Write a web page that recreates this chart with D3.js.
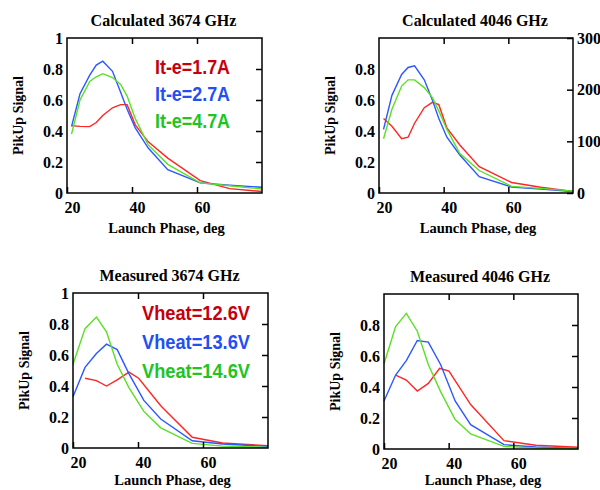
<!DOCTYPE html>
<html>
<head>
<style>
  body { margin: 0; background: #fff; }
</style>
</head>
<body>
<div id="chart"></div>
<script src="https://d3js.org/d3.v7.min.js"></script>
<script>
// ---- data ----
const calcPhase = [21.4, 24, 27, 29, 31, 34, 36.5, 38.5, 41, 45, 51, 61, 70, 80];

const calc3674Red   = [0.435, 0.43, 0.428, 0.455, 0.50, 0.55, 0.57, 0.57, 0.44, 0.33, 0.225, 0.08, 0.028, 0.01];
const calc3674Blue  = [0.43, 0.64, 0.76, 0.825, 0.85, 0.785, 0.65, 0.54, 0.42, 0.29, 0.15, 0.065, 0.05, 0.037];
const calc3674Green = [0.38, 0.60, 0.72, 0.75, 0.77, 0.745, 0.70, 0.625, 0.48, 0.31, 0.185, 0.065, 0.047, 0.026];

const calc4046Red   = [0.48, 0.43, 0.35, 0.36, 0.45, 0.55, 0.585, 0.57, 0.42, 0.31, 0.17, 0.068, 0.037, 0.01];
const calc4046Blue  = [0.41, 0.63, 0.765, 0.81, 0.82, 0.73, 0.60, 0.48, 0.36, 0.245, 0.105, 0.038, 0.025, 0.01];
const calc4046Green = [0.35, 0.54, 0.69, 0.73, 0.73, 0.68, 0.615, 0.53, 0.41, 0.255, 0.145, 0.043, 0.03, 0.012];

const meas3674Phase    = [20, 23.7, 27.2, 30.3, 33.6, 37.2, 41.8, 47, 56.7, 66, 80];
const meas3674RedPhase = [23.7, 27.2, 30.3, 33.6, 37.2, 40.2, 47, 56.7, 66, 80];
const meas3674Red   = [0.45, 0.435, 0.40, 0.44, 0.49, 0.45, 0.273, 0.069, 0.032, 0.015];
const meas3674Blue  = [0.33, 0.52, 0.61, 0.67, 0.635, 0.48, 0.307, 0.187, 0.047, 0.026, 0.011];
const meas3674Green = [0.54, 0.77, 0.845, 0.75, 0.54, 0.39, 0.236, 0.13, 0.03, 0.012, 0.004];

const meas4046Phase    = [20, 23.6, 26.9, 30.3, 33.7, 37.5, 42, 46.8, 57.1, 66.9, 80];
const meas4046RedPhase = [23.6, 26.9, 30.3, 33.7, 37.2, 40.1, 46.8, 57.1, 66.9, 80];
const meas4046Red   = [0.477, 0.445, 0.374, 0.423, 0.52, 0.503, 0.287, 0.054, 0.024, 0.011];
const meas4046Blue  = [0.31, 0.477, 0.57, 0.70, 0.69, 0.545, 0.31, 0.157, 0.028, 0.013, 0.004];
const meas4046Green = [0.55, 0.79, 0.875, 0.76, 0.545, 0.37, 0.19, 0.097, 0.017, 0.006, 0.002];

const calcLegend = ['It-e=1.7A', 'It-e=2.7A', 'It-e=4.7A'];
const measLegend = ['Vheat=12.6V', 'Vheat=13.6V', 'Vheat=14.6V'];

const xTicks = [20, 40, 60];
const yTicksFull = [0, 0.2, 0.4, 0.6, 0.8, 1];
const yTicksNoTop = [0, 0.2, 0.4, 0.6, 0.8];
const rightTicks = [0, 100, 200, 300];

const lineColors = ['#ff2626', '#2b58ff', '#5ae024'];
const textColors = ['#c4000c', '#1f4ff5', '#22c422'];

const serif = '"Liberation Serif", "Times New Roman", Times, serif';
const sans = '"Liberation Sans", Arial, sans-serif';

const zip = (xs, ys) => xs.map((x, i) => [x, ys[i]]);

const panels = [
  { title: 'Calculated 3674 GHz', box: [67, 262, 38, 193], yTicks: yTicksFull, xTitleDy: 40,
    series: [zip(calcPhase, calc3674Red), zip(calcPhase, calc3674Blue), zip(calcPhase, calc3674Green)],
    legend: calcLegend, legendAt: [155, 73.5, 27], legendW: 75 },
  { title: 'Calculated 4046 GHz', box: [379, 573, 38, 193], yTicks: yTicksNoTop, right: true, xTitleDy: 40,
    series: [zip(calcPhase, calc4046Red), zip(calcPhase, calc4046Blue), zip(calcPhase, calc4046Green)] },
  { title: 'Measured 3674 GHz', box: [73, 268, 293, 448], yTicks: yTicksFull, xTitleDy: 37,
    series: [zip(meas3674RedPhase, meas3674Red), zip(meas3674Phase, meas3674Blue), zip(meas3674Phase, meas3674Green)],
    legend: measLegend, legendAt: [142, 319.5, 29], legendW: 108 },
  { title: 'Measured 4046 GHz', box: [384, 578, 294, 449], yTicks: yTicksNoTop, xTitleDy: 36,
    series: [zip(meas4046RedPhase, meas4046Red), zip(meas4046Phase, meas4046Blue), zip(meas4046Phase, meas4046Green)] }
];

const svg = d3.select('#chart').append('svg')
  .attr('width', 600)
  .attr('height', 490)
  .style('font-family', serif)
  .style('font-weight', 'bold');

panels.forEach(p => {
  const [l, r, t, b] = p.box;
  const x = d3.scaleLinear().domain([20, 80]).range([l, r]);
  const y = d3.scaleLinear().domain([0, 1]).range([b, t]);
  const g = svg.append('g');

  // lines
  const line = d3.line().x(d => x(d[0])).y(d => y(d[1]));
  p.series.forEach((s, i) => {
    g.append('path')
      .datum(s)
      .attr('fill', 'none')
      .attr('stroke', lineColors[i])
      .attr('stroke-width', 1.4)
      .attr('d', line);
  });

  // bottom axis with labels
  const bx = g.append('g').attr('transform', `translate(0,${b})`)
    .call(d3.axisBottom(x).tickValues(xTicks).tickSize(-6).tickPadding(8.5));
  bx.selectAll('text').attr('dx', 5);

  // top ticks
  g.append('g').attr('transform', `translate(0,${t})`)
    .call(d3.axisTop(x).tickValues([40, 60]).tickSize(-6).tickFormat(''));

  // left axis labels
  g.append('g').attr('transform', `translate(${l},0)`)
    .call(d3.axisLeft(y).tickValues(p.yTicks).tickSize(0).tickPadding(4)
      .tickFormat(d => d === 0 || d === 1 ? d3.format('d')(d) : d3.format('.1f')(d)));

  // right ticks / axis
  if (p.right) {
    const y2 = d3.scaleLinear().domain([0, 300]).range([b, t]);
    g.append('g').attr('transform', `translate(${r},0)`)
      .call(d3.axisRight(y2).tickValues(rightTicks).tickSize(-6).tickPadding(4));
  } else {
    g.append('g').attr('transform', `translate(${r},0)`)
      .call(d3.axisRight(y).tickValues([0.2, 0.4, 0.6, 0.8]).tickSize(-6).tickFormat(''));
  }

  g.selectAll('g').attr('font-family', null).attr('font-size', null);
  g.selectAll('.tick text')
    .style('font-family', serif).style('font-weight', 'bold')
    .attr('font-size', 16).attr('fill', '#000');
  g.selectAll('.domain').remove();
  g.selectAll('.tick line').attr('stroke', '#000').attr('stroke-width', 1.5);

  // frame
  g.append('rect')
    .attr('x', l).attr('y', t)
    .attr('width', r - l).attr('height', b - t)
    .attr('fill', 'none').attr('stroke', '#000').attr('stroke-width', 1.5);

  // titles
  g.append('text')
    .attr('x', (l + r) / 2 - 1).attr('y', t - 12)
    .attr('text-anchor', 'middle').attr('font-size', 16)
    .text(p.title);

  g.append('text')
    .attr('x', (l + r) / 2 + 2).attr('y', b + p.xTitleDy)
    .attr('text-anchor', 'middle').attr('font-size', 14.5)
    .text('Launch Phase, deg');

  g.append('text')
    .attr('transform', `translate(${l - 44},${(t + b) / 2}) rotate(-90)`)
    .attr('text-anchor', 'middle').attr('font-size', 14)
    .text('PikUp Signal');

  // legend
  if (p.legend) {
    const [lx, ly0, dy] = p.legendAt;
    p.legend.forEach((txt, i) => {
      g.append('text')
        .style('font-family', sans)
        .attr('x', lx).attr('y', ly0 + i * dy)
        .attr('font-size', 20)
        .attr('fill', textColors[i])
        .attr('textLength', p.legendW)
        .attr('lengthAdjust', 'spacingAndGlyphs')
        .text(txt);
    });
  }
});
</script>
</body>
</html>
